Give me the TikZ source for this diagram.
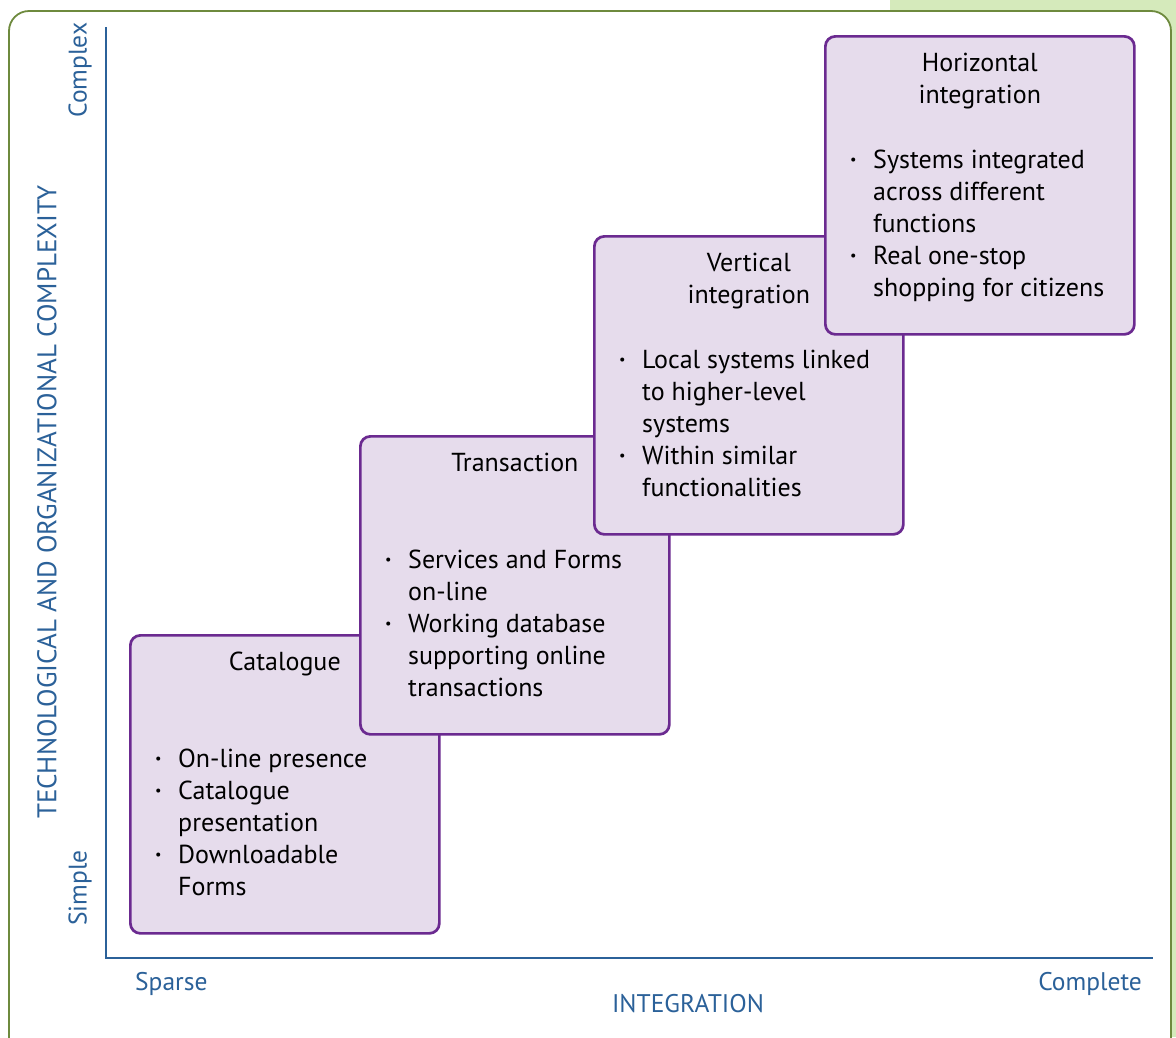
\documentclass[tikz,border=0pt]{standalone}
\usepackage{fontspec}
\setmainfont{PT Sans}
\usetikzlibrary{positioning}
\definecolor{axisblue}{HTML}{2B6199}
\definecolor{stageline}{HTML}{6B2A90}
\definecolor{stagefill}{HTML}{E6DCEC}
\definecolor{framegreen}{HTML}{6E8A3E}
\definecolor{sidegreen}{HTML}{D5EABB}
\newcommand{\bul}{\makebox[23pt][l]{\raisebox{0.3ex}{\scalebox{0.55}{\textbullet}}}}
\tikzset{%
        stage/.style = { draw=stageline, fill=stagefill, line width=2.7pt, rounded corners=10pt,
                         minimum width=309pt, minimum height=298pt, anchor=north west, inner sep=0pt },
        title/.style = { anchor=base, inner sep=0pt, font=\fontsize{26}{32}\selectfont },
        items/.style = { anchor=base west, inner sep=0pt, font=\fontsize{26}{32}\selectfont },
         axis/.style = { draw=axisblue, line width=2.7pt },
    axislabel/.style = { text=axisblue, inner sep=0pt, font=\fontsize{25.5}{32}\selectfont },
        frame/.style = { draw=framegreen, line width=1.8pt, fill=white, rounded corners=20pt }
}
\begin{document}
\begin{tikzpicture}[x=1pt,y=-1pt]
  \useasboundingbox (0,0) rectangle (1176,1037);
  \fill[sidegreen] (890,0) rectangle (1176,1037);
  \draw[frame] (9,1062) -- (9,11) -- (1171,11) -- (1171,1062);

  \coordinate (top) at (106,27);
  \coordinate (o) at (106,958);
  \coordinate (end) at (1153,958);
  \draw[axis] (top) -- (o) -- (end);

  \node[axislabel, rotate=90] (complex) at (80,70) {Complex};
  \node[axislabel, rotate=90] (simple) at (80,888) {Simple};
  \node[axislabel, rotate=90, font=\fontsize{27}{32}\selectfont] (ylabel) at (47,502)
    {TECHNOLOGICAL AND ORGANIZATIONAL COMPLEXITY};
  \node[axislabel, anchor=base west] (sparse) at (135,990) {Sparse};
  \node[axislabel, anchor=base east] (complete) at (1142,990) {Complete};
  \node[axislabel, anchor=base] (xlabel) at (688,1012) {INTEGRATION};

  \node[stage] (a) at (129,634) {};
  \node[title] (at) at ([yshift=-36pt]a.north) {Catalogue};
  \node[items] (ai) at ([xshift=26pt,yshift=-133pt]a.north west)
    {\begin{tabular}[t]{@{}l@{}l@{}}
      \bul & On-line presence\\
      \bul & Catalogue\\
           & presentation\\
      \bul & Downloadable\\
           & Forms
    \end{tabular}};

  \node[stage] (b) at (359,435) {};
  \node[title] (bt) at ([yshift=-36pt]b.north) {Transaction};
  \node[items] (bi) at ([xshift=26pt,yshift=-133pt]b.north west)
    {\begin{tabular}[t]{@{}l@{}l@{}}
      \bul & Services and Forms\\
           & on-line\\
      \bul & Working database\\
           & supporting online\\
           & transactions
    \end{tabular}};

  \node[stage] (c) at (593,235) {};
  \node[title] (ct) at ([yshift=-36pt]c.north)
    {\begin{tabular}[t]{@{}c@{}}Vertical\\integration\end{tabular}};
  \node[items] (ci) at ([xshift=26pt,yshift=-133pt]c.north west)
    {\begin{tabular}[t]{@{}l@{}l@{}}
      \bul & Local systems linked\\
           & to higher-level\\
           & systems\\
      \bul & Within similar\\
           & functionalities
    \end{tabular}};

  \node[stage] (d) at (824,35) {};
  \node[title] (dt) at ([yshift=-36pt]d.north)
    {\begin{tabular}[t]{@{}c@{}}Horizontal\\integration\end{tabular}};
  \node[items] (di) at ([xshift=26pt,yshift=-133pt]d.north west)
    {\begin{tabular}[t]{@{}l@{}l@{}}
      \bul & Systems integrated\\
           & across different\\
           & functions\\
      \bul & Real one-stop\\
           & shopping for citizens
    \end{tabular}};
\end{tikzpicture}
\end{document}
